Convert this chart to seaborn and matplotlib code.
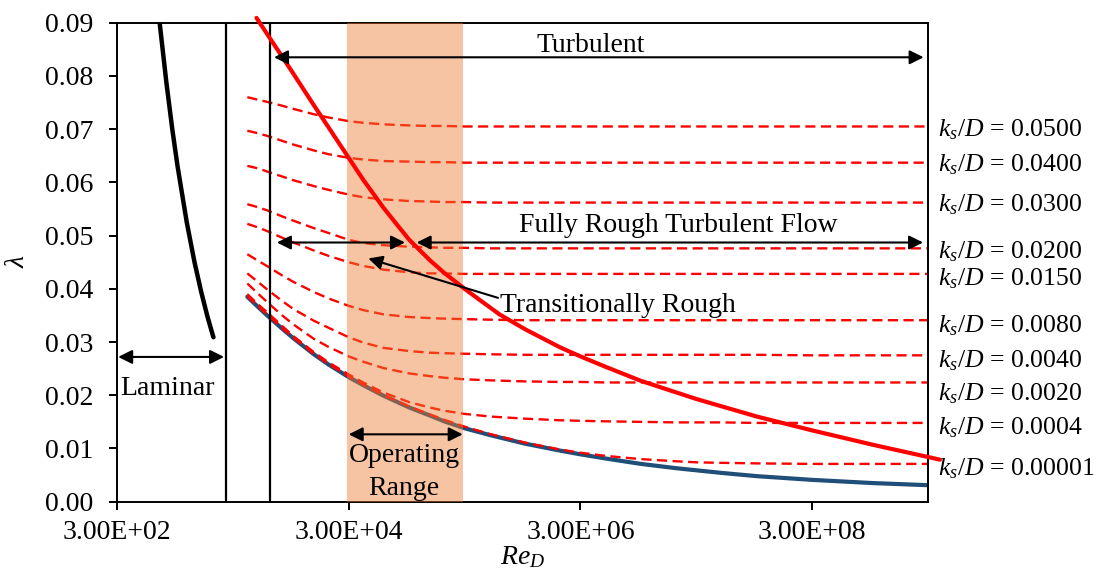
import matplotlib
matplotlib.use("Agg")
import matplotlib.pyplot as plt
import matplotlib.transforms as mtransforms
from matplotlib.ticker import FixedLocator, FixedFormatter, NullLocator
import seaborn as sns

# ---------------------------------------------------------------------------
# Friction factor data (Darcy lambda versus Reynolds number Re_D)
# ---------------------------------------------------------------------------
re_grid = [4e3, 5e3, 6e3, 8e3, 1e4, 1.5e4, 2e4, 3e4, 4e4, 6e4, 1e5, 1.5e5, 2e5,
           3e5, 5e5, 1e6, 2e6, 3e6, 5e6, 1e7, 2e7, 3e7, 5e7, 1e8, 3e8, 1e9, 3e9]

roughness_labels = ["0.0500", "0.0400", "0.0300", "0.0200", "0.0150",
                    "0.0080", "0.0040", "0.0020", "0.0004", "0.00001"]

lam_ks_0500 = [0.0760, 0.0755, 0.0751, 0.0744, 0.0738, 0.0728, 0.0722, 0.0715,
               0.0712, 0.0709, 0.0707, 0.0706, 0.0706, 0.0705, 0.0705, 0.0705,
               0.0705, 0.0705, 0.0705, 0.0705, 0.0705, 0.0705, 0.0705, 0.0705,
               0.0705, 0.0705, 0.0705]
lam_ks_0400 = [0.0697, 0.0692, 0.0687, 0.0678, 0.0671, 0.0660, 0.0653, 0.0646,
               0.0643, 0.0640, 0.0639, 0.0638, 0.0638, 0.0637, 0.0637, 0.0637,
               0.0637, 0.0637, 0.0637, 0.0637, 0.0637, 0.0637, 0.0637, 0.0637,
               0.0637, 0.0637, 0.0637]
lam_ks_0300 = [0.0631, 0.0626, 0.0620, 0.0611, 0.0604, 0.0593, 0.0586, 0.0577,
               0.0572, 0.0568, 0.0565, 0.0564, 0.0563, 0.0563, 0.0562, 0.0562,
               0.0562, 0.0562, 0.0562, 0.0562, 0.0562, 0.0562, 0.0562, 0.0562,
               0.0562, 0.0562, 0.0562]
lam_ks_0200 = [0.0559, 0.0553, 0.0547, 0.0536, 0.0528, 0.0514, 0.0505, 0.0492,
               0.0486, 0.0482, 0.0479, 0.0478, 0.0477, 0.0477, 0.0476, 0.0476,
               0.0476, 0.0476, 0.0476, 0.0476, 0.0476, 0.0476, 0.0476, 0.0476,
               0.0476, 0.0476, 0.0476]
lam_ks_0150 = [0.0522, 0.0515, 0.0508, 0.0496, 0.0487, 0.0472, 0.0462, 0.0450,
               0.0443, 0.0436, 0.0431, 0.0429, 0.0429, 0.0428, 0.0428, 0.0428,
               0.0428, 0.0428, 0.0428, 0.0428, 0.0428, 0.0428, 0.0428, 0.0428,
               0.0428, 0.0428, 0.0428]
lam_ks_0080 = [0.0465, 0.0452, 0.0442, 0.0425, 0.0413, 0.0394, 0.0382, 0.0368,
               0.0360, 0.0352, 0.0347, 0.0345, 0.0344, 0.0343, 0.0342, 0.0341,
               0.0341, 0.0341, 0.0341, 0.0341, 0.0341, 0.0341, 0.0341, 0.0341,
               0.0341, 0.0341, 0.0341]
lam_ks_0040 = [0.0429, 0.0412, 0.0398, 0.0377, 0.0362, 0.0340, 0.0327, 0.0309,
               0.0299, 0.0289, 0.0283, 0.0280, 0.0279, 0.0278, 0.0277, 0.0276,
               0.0276, 0.0276, 0.0276, 0.0276, 0.0276, 0.0276, 0.0276, 0.0276,
               0.0275, 0.0275, 0.0275]
lam_ks_0020 = [0.0410, 0.0390, 0.0374, 0.0350, 0.0333, 0.0306, 0.0291, 0.0273,
               0.0263, 0.0251, 0.0241, 0.0236, 0.0233, 0.0230, 0.0228, 0.0226,
               0.0225, 0.0225, 0.0224, 0.0224, 0.0224, 0.0224, 0.0224, 0.0224,
               0.0224, 0.0224, 0.0224]
lam_ks_0004 = [0.0390, 0.0370, 0.0355, 0.0330, 0.0311, 0.0281, 0.0262, 0.0239,
               0.0224, 0.0205, 0.0187, 0.0177, 0.0171, 0.0165, 0.0160, 0.0156,
               0.0153, 0.0152, 0.0151, 0.0150, 0.0149, 0.0149, 0.0149, 0.0148,
               0.0148, 0.0148, 0.0148]
lam_ks_00001 = [0.0386, 0.0366, 0.0351, 0.0326, 0.0308, 0.0278, 0.0259, 0.0235,
                0.0220, 0.0200, 0.0179, 0.0164, 0.0154, 0.0141, 0.0127, 0.0111,
                0.0098, 0.0092, 0.0086, 0.0080, 0.0076, 0.0074, 0.0073, 0.0072,
                0.0071, 0.0071, 0.0071]

lam_smooth = [0.0385, 0.0365, 0.0349, 0.0325, 0.0307, 0.0277, 0.0258, 0.0234,
              0.0219, 0.0199, 0.0177, 0.0162, 0.0151, 0.0138, 0.0125, 0.0109,
              0.0096, 0.0089, 0.0081, 0.0071, 0.0063, 0.0059, 0.0054, 0.0048,
              0.0041, 0.0035, 0.0031]

# Laminar branch
re_laminar = [700, 800, 900, 1000, 1200, 1400, 1600, 1800, 2000, 2040]
lam_laminar = [0.0900, 0.0788, 0.0700, 0.0630, 0.0525, 0.0450, 0.0394, 0.0350,
               0.0315, 0.0309]

# Limit between transitionally rough and fully rough flow
re_rough_limit = [4.8e3, 6e3, 8e3, 1e4, 1.5e4, 2e4, 3e4, 4e4, 6e4, 8e4, 1e5,
                  1.5e5, 2e5, 3e5, 4e5, 6e5, 1e6, 2e6, 3e6, 5e6, 1e7, 3e7, 1e8,
                  3e8, 1e9, 3e9, 3.8e9]
lam_rough_limit = [0.0909, 0.0877, 0.0836, 0.0804, 0.0745, 0.0704, 0.0646, 0.0605,
                   0.0552, 0.0518, 0.0492, 0.0454, 0.0430, 0.0400, 0.0380, 0.0352,
                   0.0324, 0.0290, 0.0273, 0.0253, 0.0227, 0.0193, 0.0160, 0.0134,
                   0.0107, 0.0084, 0.0079]

# Regime boundaries and operating range
re_regime_bounds = [2620, 6280]
re_operating = [2.9e4, 2.9e5]

x_ticks = [3e2, 3e4, 3e6, 3e8]
x_tick_labels = ["3.00E+02", "3.00E+04", "3.00E+06", "3.00E+08"]
y_ticks = [0.00, 0.01, 0.02, 0.03, 0.04, 0.05, 0.06, 0.07, 0.08, 0.09]
y_tick_labels = ["0.00", "0.01", "0.02", "0.03", "0.04", "0.05", "0.06", "0.07",
                 "0.08", "0.09"]

rough_curves = [lam_ks_0500, lam_ks_0400, lam_ks_0300, lam_ks_0200, lam_ks_0150,
                lam_ks_0080, lam_ks_0040, lam_ks_0020, lam_ks_0004, lam_ks_00001]

# ---------------------------------------------------------------------------
# Layout / style
# ---------------------------------------------------------------------------
FS = 20
FS_KS = 18.5
label_baselines = [0.06872, 0.06214, 0.05462, 0.04566, 0.04059,
                   0.03183, 0.02518, 0.01911, 0.01266, 0.00489]

sns.set_style("ticks")
plt.rcParams.update({
    "font.family": ["Liberation Serif", "DejaVu Serif"],
    "mathtext.fontset": "custom",
    "mathtext.rm": "Liberation Serif",
    "mathtext.it": "Liberation Serif:italic",
    "mathtext.bf": "Liberation Serif:bold",
    "axes.edgecolor": "black",
    "axes.linewidth": 1.4,
    "xtick.color": "black",
    "ytick.color": "black",
    "text.color": "black",
    "axes.labelcolor": "black",
    "xtick.major.width": 1.4,
    "ytick.major.width": 1.4,
})

fig = plt.figure(figsize=(10.98, 5.69), dpi=100)
ax = fig.add_axes([0.10656, 0.11828, 0.73861, 0.84183])
ax.set_xscale("log")
ax.set_xlim(3e2, 3e9)
ax.set_ylim(0.0, 0.09)

RED = "#FF0000"
BLUE = "#1F4E79"

# relative roughness curves
for lam in rough_curves:
    sns.lineplot(x=re_grid, y=lam, ax=ax, color=RED, linewidth=1.7, zorder=2)
    ax.lines[-1].set_dashes((4.3, 2.3))

# smooth pipe
sns.lineplot(x=re_grid, y=lam_smooth, ax=ax, color=BLUE, linewidth=3.0, zorder=1.9)

# laminar
sns.lineplot(x=re_laminar, y=lam_laminar, ax=ax, color="black", linewidth=3.2,
             zorder=2)

# regime boundaries
for rb in re_regime_bounds:
    ax.axvline(rb, color="black", linewidth=1.6, zorder=2)

# operating range band
ax.axvspan(re_operating[0], re_operating[1], color="#ED7D31", alpha=0.45,
           linewidth=0, zorder=3)

# fully rough limit
sns.lineplot(x=re_rough_limit, y=lam_rough_limit, ax=ax, color=RED, linewidth=3.0,
             zorder=4, clip_on=False)

# ---------------------------------------------------------------------------
# Annotations
# ---------------------------------------------------------------------------
def arrow(x0, y0, x1, y1, style):
    ax.annotate("", xy=(x1, y1), xytext=(x0, y0), xycoords="data",
                arrowprops=dict(arrowstyle=style + ",head_length=0.7,head_width=0.35",
                                mutation_scale=12, lw=1.5, color="black",
                                shrinkA=0, shrinkB=0),
                zorder=6, annotation_clip=False)

arrow(6800, 0.0835, 2.75e9, 0.0835, "<|-|>")
arrow(7200, 0.0487, 9.18e4, 0.0487, "<|-|>")
arrow(1.158e5, 0.0487, 2.72e9, 0.0487, "<|-|>")
arrow(307, 0.0272, 2518, 0.0272, "<|-|>")
arrow(3.0e4, 0.01266, 2.89e5, 0.01266, "<|-|>")
arrow(5.83e5, 0.0383, 4.43e4, 0.0457, "-|>")

ax.text(3.70e6, 0.08455, "Turbulent", fontsize=FS, ha="center", va="baseline", zorder=6)
ax.text(2.1e7, 0.0507, "Fully Rough Turbulent Flow", fontsize=FS, ha="center",
        va="baseline", zorder=6)
ax.text(6.06e5, 0.0357, "Transitionally Rough", fontsize=FS, ha="left",
        va="baseline", zorder=6)
ax.text(819, 0.02005, "Laminar", fontsize=FS, ha="center", va="baseline", zorder=6)
ax.text(9.0e4, 0.00737, "Operating", fontsize=FS, ha="center", va="baseline", zorder=6)
ax.text(9.0e4, 0.00126, "Range", fontsize=FS, ha="center", va="baseline", zorder=6)

blend = mtransforms.blended_transform_factory(ax.transAxes, ax.transData)
for lbl, yb in zip(roughness_labels, label_baselines):
    ax.text(1.0123, yb, r"$k_s/D$ = " + lbl, transform=blend, fontsize=FS_KS,
            ha="left", va="baseline", clip_on=False)

# ---------------------------------------------------------------------------
# Axes
# ---------------------------------------------------------------------------
ax.xaxis.set_major_locator(FixedLocator(x_ticks))
ax.xaxis.set_major_formatter(FixedFormatter(x_tick_labels))
ax.xaxis.set_minor_locator(NullLocator())
ax.yaxis.set_major_locator(FixedLocator(y_ticks))
ax.yaxis.set_major_formatter(FixedFormatter(y_tick_labels))
ax.tick_params(axis="x", direction="out", length=6, pad=7, labelsize=FS)
ax.tick_params(axis="y", direction="out", length=6, pad=11, labelsize=FS)
for s in ax.spines.values():
    s.set_visible(True)

ax.set_ylabel("λ", fontsize=FS, fontstyle="italic", rotation=90)
ax.yaxis.set_label_coords(-0.107, 0.5)
ax.set_xlabel(r"$Re_D$", fontsize=FS)
ax.xaxis.set_label_coords(0.5, -0.089)

fig.savefig("out.png", dpi=100)
